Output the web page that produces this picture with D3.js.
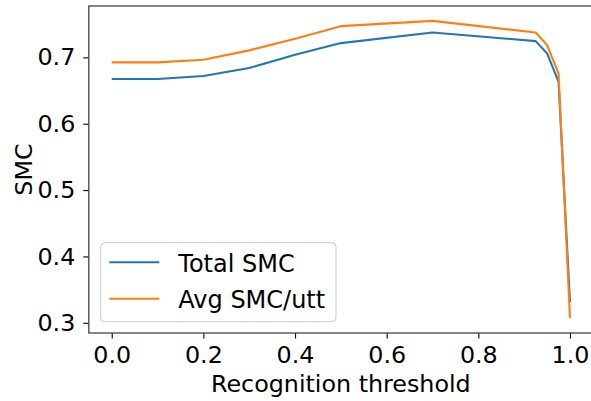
<!DOCTYPE html>
<html><head><meta charset="utf-8">
<script src="https://cdn.jsdelivr.net/npm/d3@7"></script>
<style>
html,body{margin:0;padding:0;background:#fff;}
svg{display:block;font-family:"DejaVu Sans",sans-serif;}
</style></head>
<body><svg id="c" width="591" height="401"></svg>
<script>
const thresholds = [0, 0.1, 0.2, 0.3, 0.4, 0.5, 0.7, 0.925, 0.95, 0.975, 1.0];
const totalSMC   = [0.6675, 0.6675, 0.672, 0.684, 0.704, 0.7215, 0.7375, 0.7245, 0.706, 0.6635, 0.331];
const avgSMC     = [0.6925, 0.6925, 0.6965, 0.7105, 0.728, 0.747, 0.755, 0.7375, 0.7185, 0.676, 0.307];
const xTicks = [0, 0.2, 0.4, 0.6, 0.8, 1.0];
const yTicks = [0.3, 0.4, 0.5, 0.6, 0.7];
const seriesNames = ["Total SMC", "Avg SMC/utt"];
const colors = ["#1f77b4", "#ff7f0e"];

const svg = d3.select("#c");
const L = 88.8, R = 592.9, T = 6, B = 333;
const allY = totalSMC.concat(avgSMC);
const ymin = d3.min(allY), ymax = d3.max(allY), yr = ymax - ymin;
const x = d3.scaleLinear().domain([-0.05, 1.05]).range([L, R]);
const y = d3.scaleLinear().domain([ymin - 0.05*yr, ymax + 0.05*yr]).range([B, T]);

const fs = 23.8;
const xAxis = svg.append("g").attr("transform", `translate(0,${B})`)
  .call(d3.axisBottom(x).tickValues(xTicks).tickFormat(d3.format(".1f")).tickSizeOuter(0).tickSize(5.5).tickPadding(8));
const yAxis = svg.append("g").attr("transform", `translate(${L},0)`)
  .call(d3.axisLeft(y).tickValues(yTicks).tickFormat(d3.format(".1f")).tickSizeOuter(0).tickSize(5.5).tickPadding(8));
[xAxis, yAxis].forEach(a => {
  a.select(".domain").remove();
  a.selectAll("text").attr("font-size", fs).attr("fill", "#000").attr("font-family", "DejaVu Sans");
  a.selectAll("line").attr("stroke", "#000").attr("stroke-width", 1.1);
});

// frame
svg.append("rect").attr("x", L).attr("y", T).attr("width", R - L).attr("height", B - T)
  .attr("fill", "none").attr("stroke", "#444").attr("stroke-width", 1.3);

const data = [totalSMC, avgSMC];
const line = d3.line().x((d, i) => x(thresholds[i])).y(d => y(d));
data.forEach((s, k) => {
  svg.append("path").datum(s).attr("d", line).attr("fill", "none")
    .attr("stroke", colors[k]).attr("stroke-width", 2.1).attr("stroke-linejoin", "round");
});

// labels
svg.append("text").attr("x", (L + R) / 2).attr("y", 392).attr("text-anchor", "middle")
  .attr("font-size", fs).text("Recognition threshold");
svg.append("text").attr("transform", `translate(31.5,${(T + B) / 2}) rotate(-90)`)
  .attr("text-anchor", "middle").attr("font-size", fs).text("SMC");

// legend
const lg = svg.append("g");
lg.append("rect").attr("x", 100.7).attr("y", 242.7).attr("width", 235.3).attr("height", 79)
  .attr("rx", 4).attr("fill", "#fff").attr("fill-opacity", 0.8).attr("stroke", "#ccc").attr("stroke-width", 1);
seriesNames.forEach((n, k) => {
  const yy = 262.3 + k * 36.4;
  lg.append("line").attr("x1", 109.3).attr("x2", 159.3).attr("y1", yy).attr("y2", yy)
    .attr("stroke", colors[k]).attr("stroke-width", 2.1);
  lg.append("text").attr("x", 178.3).attr("y", yy + 9.2).attr("font-size", 24).text(n);
});
</script></body></html>
